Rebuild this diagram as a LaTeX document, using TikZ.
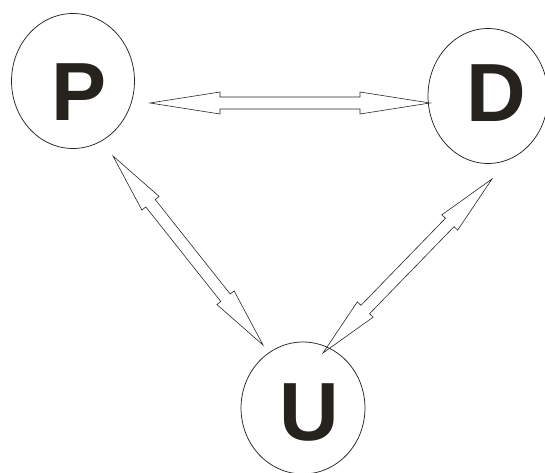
\documentclass[tikz,border=0pt]{standalone}
\usepackage{fontspec}
\setmainfont{Liberation Sans}
\usepackage{tikz}
\usetikzlibrary{shapes.geometric,calc}

\definecolor{lettercol}{RGB}{38,34,30}

\tikzset{
	ring/.style = {ellipse, draw=black!85, line width=0.15mm, inner sep=0pt},
	letter/.style = {font=\fontsize{47}{47}\selectfont\bfseries, text=lettercol, inner sep=0pt},
	blockline/.style = {draw=black!85, line width=0.12mm, line join=miter}
}

% hollow double-headed block arrow between two named points
\newcommand\blockarrow[2]{%
	\coordinate (ha) at ($(#1)!0.25!(#2)$);
	\coordinate (hb) at ($(#2)!0.25!(#1)$);
	\draw[blockline] (#1) -- ($(ha)!0.22cm!90:(#2)$) -- ($(ha)!0.12cm!90:(#2)$)
		-- ($(hb)!0.12cm!-90:(#1)$) -- ($(hb)!0.22cm!-90:(#1)$) -- (#2)
		-- ($(hb)!0.22cm!90:(#1)$) -- ($(hb)!0.12cm!90:(#1)$)
		-- ($(ha)!0.12cm!-90:(#2)$) -- ($(ha)!0.22cm!-90:(#2)$) -- cycle;
}

\begin{document}
\begin{tikzpicture}[x=0.02cm, y=-0.02cm]
	\useasboundingbox (0,0) rectangle (545,473);
	\node[ring,
	minimum width = 2.46cm,
	minimum height = 2.7cm] (P) at(73,81){};
	\node[ring,
	minimum width = 2.4cm,
	minimum height = 2.7cm] (D) at(488,96){};
	\node[ring,
	minimum width = 2.48cm,
	minimum height = 2.64cm] (U) at(303,408){};
	\node[letter] (Pl) at(79,92.5){P};
	\node[letter] (Dl) at(496,93.5){D};
	\node[letter] (Ul) at(309,412.5){U};
	% arrow ends
	\coordinate (pd) at(150,103);
	\coordinate (dp) at(430,103);
	\coordinate (pu) at(113,156);
	\coordinate (up) at(263,345);
	\coordinate (du) at(492,179);
	\coordinate (ud) at(323,353);
	\blockarrow{pd}{dp}
	\blockarrow{pu}{up}
	\blockarrow{du}{ud}
\end{tikzpicture}
\end{document}
